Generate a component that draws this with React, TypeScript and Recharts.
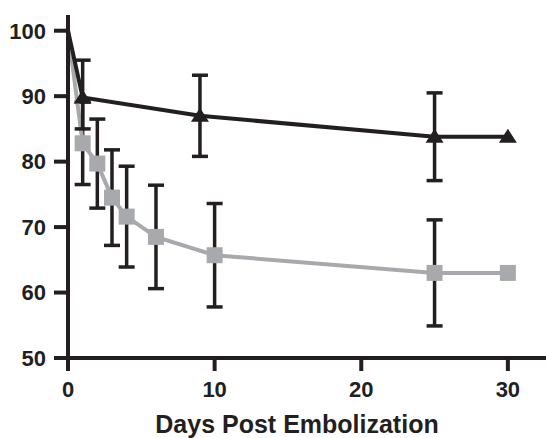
import React from 'react';
import { LineChart, Line, XAxis, YAxis, ErrorBar } from 'recharts';

// Series: day, percent, error (SD)
const blackDays = [0, 1, 9, 25, 30];
const blackValues = [100, 89.8, 87, 83.8, 83.8];
const blackErrors: (number | number[] | undefined)[] = [undefined, [4.8, 5.7], 6.2, 6.7, undefined];

const greyDays = [0, 1, 2, 3, 4, 6, 10, 25, 30];
const greyValues = [100, 82.8, 79.7, 74.5, 71.6, 68.5, 65.7, 63.0, 63.0];
const greyErrors: (number | undefined)[] = [undefined, 6.3, 6.8, 7.3, 7.7, 7.9, 7.9, 8.1, undefined];

const xTicks = [0, 10, 20, 30];
const yTicks = [50, 60, 70, 80, 90, 100];

const INK = '#231f20';
const GREY = '#a7a9ac';
const FONT = '"Liberation Sans", Arial, Helvetica, sans-serif';

const blackData = blackDays.map((d, i) => ({ day: d, value: blackValues[i], err: blackErrors[i] }));
const greyData = greyDays.map((d, i) => ({ day: d, value: greyValues[i], err: greyErrors[i] }));

const TriangleDot = (props: any) => {
  const { cx, cy, index } = props;
  if (index === 0 || cx == null || cy == null) return <g key={`t-${index}`} />;
  return (
    <polygon
      key={`t-${index}`}
      points={`${cx},${cy - 8} ${cx - 9},${cy + 6} ${cx + 9},${cy + 6}`}
      fill={INK}
    />
  );
};

const SquareDot = (props: any) => {
  const { cx, cy, index } = props;
  if (index === 0 || cx == null || cy == null) return <g key={`s-${index}`} />;
  return <rect key={`s-${index}`} x={cx - 8} y={cy - 8} width={16} height={16} fill={GREY} />;
};

const AxisTitle = (props: any) => {
  const { viewBox } = props;
  const cx = viewBox.x + viewBox.width / 2 - 10;
  return (
    <text
      x={cx}
      y={viewBox.y + viewBox.height - 5}
      textAnchor="middle"
      fill={INK}
      fontSize={25}
      fontWeight="bold"
      fontFamily={FONT}
    >
      Days Post Embolization
    </text>
  );
};

const App: React.FC = () => {
  const tickStyle = { fill: INK, fontSize: 22, fontWeight: 'bold', fontFamily: FONT };
  return (
    <div style={{ position: 'absolute', left: 0, top: 0, width: 546, height: 438, background: '#fff' }}>
      <LineChart width={546} height={438} margin={{ top: 15, right: 0, bottom: 0, left: 0 }}>
        <XAxis
          type="number"
          dataKey="day"
          domain={[0, 32.6]}
          ticks={xTicks}
          allowDataOverflow
          height={80}
          tickSize={13}
          tickMargin={10}
          tick={tickStyle}
          axisLine={{ stroke: INK, strokeWidth: 4 }}
          tickLine={{ stroke: INK, strokeWidth: 4 }}
          label={<AxisTitle />}
        />
        <YAxis
          type="number"
          domain={[50, 102.4]}
          ticks={yTicks}
          allowDataOverflow
          width={68}
          tickSize={14}
          tickMargin={8}
          tick={tickStyle}
          axisLine={{ stroke: INK, strokeWidth: 4 }}
          tickLine={{ stroke: INK, strokeWidth: 4 }}
        />
        <Line
          data={greyData}
          dataKey="value"
          stroke={GREY}
          strokeWidth={4}
          dot={SquareDot}
          activeDot={false}
          isAnimationActive={false}
        >
          <ErrorBar dataKey="err" direction="y" stroke={INK} strokeWidth={3.5} width={8} isAnimationActive={false} />
        </Line>
        <Line
          data={blackData}
          dataKey="value"
          stroke={INK}
          strokeWidth={4}
          dot={TriangleDot}
          activeDot={false}
          isAnimationActive={false}
        >
          <ErrorBar dataKey="err" direction="y" stroke={INK} strokeWidth={3.5} width={8} isAnimationActive={false} />
        </Line>
      </LineChart>
    </div>
  );
};

export default App;
